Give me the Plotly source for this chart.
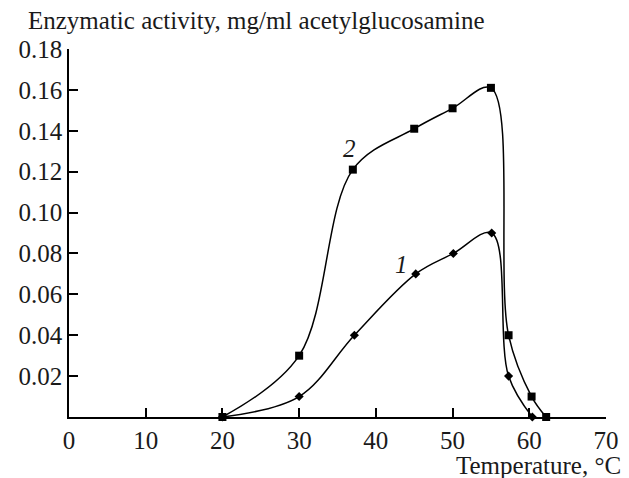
import plotly.graph_objects as go

# Data
temp_2 = [20, 30, 37, 45, 50, 55, 57.3, 60.3, 62.2]
act_2 = [0.0, 0.03, 0.121, 0.141, 0.151, 0.161, 0.040, 0.010, 0.0]
temp_1 = [20, 30, 37.2, 45.2, 50.1, 55.1, 57.3, 60.4]
act_1 = [0.0, 0.010, 0.040, 0.070, 0.080, 0.090, 0.020, 0.0]

x_ticks = [0, 10, 20, 30, 40, 50, 60, 70]
y_ticks = [0.02, 0.04, 0.06, 0.08, 0.10, 0.12, 0.14, 0.16, 0.18]
y_labels = ["0.02", "0.04", "0.06", "0.08", "0.10", "0.12", "0.14", "0.16", "0.18"]

FONT = "Liberation Serif"
INK = "#1a1a1a"

fig = go.Figure()
fig.add_trace(go.Scatter(
    x=temp_1, y=act_1, mode="lines+markers",
    line=dict(color="black", width=1.5, shape="spline", smoothing=1.0),
    marker=dict(symbol="diamond", size=7, color="black"),
    showlegend=False, cliponaxis=False))
fig.add_trace(go.Scatter(
    x=temp_2, y=act_2, mode="lines+markers",
    line=dict(color="black", width=1.5, shape="spline", smoothing=1.0),
    marker=dict(symbol="square", size=8, color="black"),
    showlegend=False, cliponaxis=False))

fig.add_annotation(x=36.5, y=0.1315, text="<i>2</i>", showarrow=False,
                   font=dict(family=FONT, size=25, color=INK))
fig.add_annotation(x=43.3, y=0.0745, text="<i>1</i>", showarrow=False,
                   font=dict(family=FONT, size=25, color=INK))

fig.add_annotation(xref="paper", yref="paper", x=-0.081, y=1.0, yshift=13,
                   xanchor="left", yanchor="bottom", align="left", showarrow=False,
                   text="Enzymatic activity, mg/ml acetylglucosamine",
                   font=dict(family=FONT, size=25, color=INK))
fig.add_annotation(xref="paper", yref="paper", x=1.032, y=0, yshift=-64,
                   xanchor="right", yanchor="bottom", align="right", showarrow=False,
                   text="Temperature, °C",
                   font=dict(family=FONT, size=25, color=INK))

fig.update_layout(
    width=629, height=478,
    margin=dict(l=68.5, r=23.3, t=49, b=60.5),
    paper_bgcolor="white", plot_bgcolor="white",
    font=dict(family=FONT, size=25, color=INK),
    xaxis=dict(range=[0, 70], tickvals=x_ticks, ticktext=[str(v) for v in x_ticks],
               showgrid=False, zeroline=False, showline=True, linecolor="black",
               linewidth=1.5, ticks="inside", ticklen=9, tickwidth=1.5,
               tickcolor="black", fixedrange=True, automargin=False),
    yaxis=dict(range=[0, 0.18], tickvals=y_ticks, ticktext=y_labels,
               showgrid=False, zeroline=False, showline=True, linecolor="black",
               linewidth=1.5, ticks="inside", ticklen=9, tickwidth=1.5,
               tickcolor="black", fixedrange=True, automargin=False),
)

fig.write_html("out.html")
